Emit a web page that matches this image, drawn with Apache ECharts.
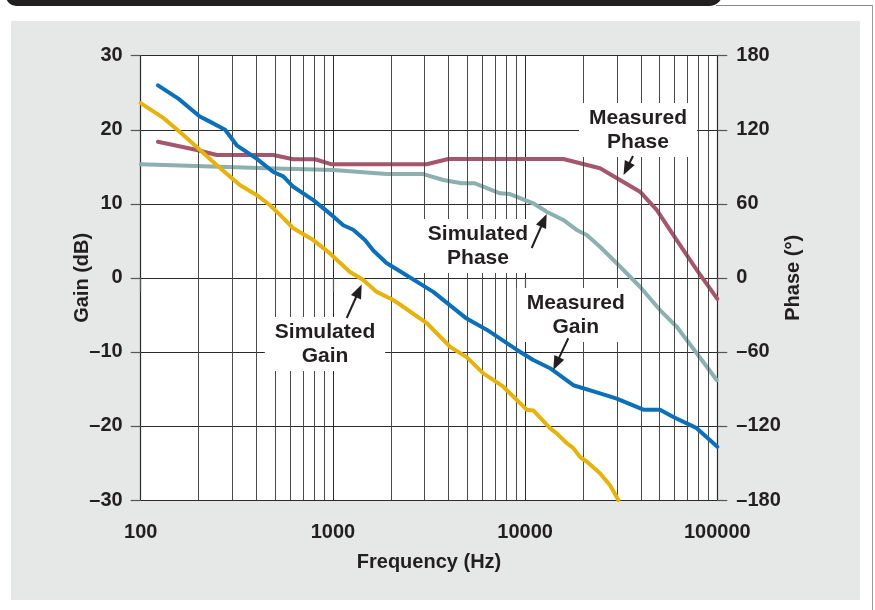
<!DOCTYPE html>
<html><head><meta charset="utf-8">
<script src="https://cdn.jsdelivr.net/npm/echarts@6/dist/echarts.min.js"></script>
<style>
html,body{margin:0;padding:0;background:#fff;width:875px;height:610px;overflow:hidden;position:relative;}
#panel{position:absolute;left:11px;top:21px;width:849px;height:579px;background:#e6e7e7;}
#bar{position:absolute;left:6px;top:-8px;width:717px;height:14px;background:#231f20;border-radius:0 0 14px 10px;}
#hline{position:absolute;left:716px;top:5px;width:157px;height:1px;background:#8a8a8a;}
#vline{position:absolute;left:872px;top:5px;width:1px;height:605px;background:#9a9a9a;}
#chart{position:absolute;left:0;top:0;width:875px;height:610px;}
</style></head>
<body>
<div id="panel"></div><div id="bar"></div><div id="hline"></div><div id="vline"></div>
<div id="chart"></div>
<script>
// ---- data (frequency in Hz, gain in dB, phase in degrees) ----
const measuredGain = [[123,26.0],[157,24.2],[203,21.8],[229,21.1],[275,20.0],[316,17.9],[401,16.1],[490,14.3],[552,13.7],[622,12.3],[791,10.5],[1005,8.3],[1132,7.1],[1276,6.5],[1468,5.1],[1622,3.7],[1900,2.0],[2234,0.9],[3328,-1.9],[4963,-5.5],[6310,-7.0],[9036,-9.7],[11030,-11.1],[13480,-12.2],[17820,-14.5],[24530,-15.6],[29980,-16.3],[41230,-17.8],[50330,-17.8],[59060,-18.8],[78160,-20.3],[100000,-22.8]];
const simulatedGain = [[100,23.6],[131,21.6],[160,19.7],[203,17.3],[249,15.2],[329,12.5],[401,11.2],[471,9.8],[531,8.5],[622,6.7],[791,5.1],[966,3.3],[1227,0.8],[1439,-0.3],[1690,-1.9],[2062,-3.0],[2234,-3.6],[3076,-6.1],[4066,-9.3],[4963,-10.7],[6064,-12.9],[7706,-14.7],[10190,-17.8],[11030,-17.9],[13480,-20.3],[14600,-21.0],[16450,-22.3],[17820,-23.0],[19310,-24.2],[20920,-24.8],[24530,-26.4],[27660,-28.0],[30560,-30.0]];
const measuredPhase = [[123,110.3],[196,103.6],[249,99.5],[490,99.5],[622,96.1],[807,96.1],[986,92.0],[3076,92.0],[3985,96.3],[15800,96.3],[24530,88.8],[39610,69.8],[48390,55.0],[61500,30.6],[78160,6.4],[100000,-17.0]];
const simulatedPhase = [[100,92.0],[453,88.8],[1005,87.4],[1905,84.1],[2953,84.1],[3753,79.3],[4677,76.6],[5485,76.6],[7396,68.5],[8337,67.9],[11030,60.4],[12950,53.6],[15800,46.9],[18550,38.8],[20920,34.7],[24530,25.2],[29980,11.8],[39610,-7.2],[50330,-26.1],[61500,-39.6],[78160,-61.1],[99300,-82.8]];
const minorGridFreqs = [200,300,400,500,600,700,800,900,2000,3000,4000,5000,6000,7000,8000,9000,20000,30000,40000,50000,60000,70000,80000,90000];
const gainTicks = {min:-30, max:30, interval:10};
const phaseTicks = {min:-180, max:180, interval:60};
const annotations = [
  {text:'Measured\nPhase', at:[38680,19.97], from:[36420,16.46], to:[32510,13.89]},
  {text:'Simulated\nPhase', at:[5689,4.30], from:[10820,4.03], to:[12950,8.62]},
  {text:'Simulated\nGain', at:[910,-8.93], from:[1180,-5.42], to:[1412,-0.90]},
  {text:'Measured\nGain', at:[18360,-5.02], from:[16780,-8.16], to:[14020,-12.44]}
];

const FONT = '"Liberation Sans", Arial, Helvetica, sans-serif';
const TXT = '#231f20';
const GRIDC = '#2a2a2a';
const dash = v => String(v).replace('-', '\u2013');
const labelStyle = {color:TXT, fontFamily:FONT, fontWeight:'bold', fontSize:20};
const nameStyle = {color:TXT, fontFamily:FONT, fontWeight:'bold', fontSize:20};

const chart = echarts.init(document.getElementById('chart'), null, {renderer:'canvas'});
const lineSeries = (name, data, axis, color, z) => ({
  name, type:'line', data, yAxisIndex:axis, showSymbol:false, symbol:'none', z,
  lineStyle:{color, width:4, join:'round', cap:'round'}, silent:true
});
chart.setOption({
  animation:false,
  backgroundColor:'transparent',
  grid:{left:140.7, right:157.7, top:55.7, bottom:110, show:true, backgroundColor:'#fff', borderWidth:0},
  xAxis:{
    type:'log', logBase:10, min:100, max:100000, splitNumber:3,
    axisLine:{show:true, lineStyle:{color:GRIDC, width:1}},
    axisTick:{show:true, length:14, lineStyle:{color:'#555', width:1.2}},
    axisLabel:{...labelStyle, margin:22, formatter:v => String(Math.round(v))},
    splitLine:{show:true, lineStyle:{color:GRIDC, width:1}},
    name:'Frequency (Hz)', nameLocation:'middle', nameGap:52, nameMoveOverlap:false, nameTextStyle:nameStyle
  },
  yAxis:[
    {type:'value', ...gainTicks, position:'left',
     axisLine:{show:true, lineStyle:{color:GRIDC, width:1.2}},
     axisTick:{show:true, length:10, lineStyle:{color:'#555', width:1.2}},
     axisLabel:{...labelStyle, margin:18, formatter:dash},
     splitLine:{show:true, lineStyle:{color:GRIDC, width:1}},
     name:'Gain (dB)', nameLocation:'middle', nameGap:48, nameMoveOverlap:false, nameTextStyle:nameStyle},
    {type:'value', ...phaseTicks, position:'right',
     axisLine:{show:true, lineStyle:{color:GRIDC, width:1.2}},
     axisTick:{show:true, length:10, lineStyle:{color:'#555', width:1.2}},
     axisLabel:{...labelStyle, margin:19, formatter:dash},
     splitLine:{show:false},
     name:'Phase (\u00b0)', nameLocation:'middle', nameGap:66, nameMoveOverlap:false, nameTextStyle:nameStyle}
  ],
  series:[
    {type:'line', name:'minor grid', data:[], silent:true, z:1,
     markLine:{silent:true, symbol:['none','none'], animation:false, label:{show:false},
       lineStyle:{color:'#4a4a4a', width:1, type:'solid'},
       emphasis:{disabled:true},
       data:minorGridFreqs.map(v => ({xAxis:v}))}},
    lineSeries('Simulated Phase', simulatedPhase, 1, '#8cafb0', 3),
    lineSeries('Measured Phase', measuredPhase, 1, '#a5566b', 4),
    lineSeries('Simulated Gain', simulatedGain, 0, '#e7b20c', 5),
    lineSeries('Measured Gain', measuredGain, 0, '#0b70b9', 6)
  ]
});

const g = [];
annotations.forEach(a => {
  const c = chart.convertToPixel({gridIndex:0}, a.at);
  g.push({type:'text', x:c[0], y:c[1], z:100,
    style:{text:a.text, font:'bold 21px ' + FONT, fill:TXT, align:'center', verticalAlign:'middle',
      lineHeight:24, backgroundColor:'#fff', padding:[3,10]}});
  const p0 = chart.convertToPixel({gridIndex:0}, a.from);
  const p1 = chart.convertToPixel({gridIndex:0}, a.to);
  const dx = p1[0]-p0[0], dy = p1[1]-p0[1], len = Math.hypot(dx, dy);
  const ux = dx/len, uy = dy/len, L = 14, W = 5.5;
  const bx = p1[0]-ux*L, by = p1[1]-uy*L;
  g.push({type:'line', z:100, shape:{x1:p0[0], y1:p0[1], x2:bx+ux*2, y2:by+uy*2}, style:{stroke:TXT, lineWidth:2}});
  g.push({type:'polygon', z:100, shape:{points:[[p1[0],p1[1]],[bx-uy*W, by+ux*W],[bx+uy*W, by-ux*W]]}, style:{fill:TXT}});
});
chart.setOption({graphic:g});
</script>
</body></html>
